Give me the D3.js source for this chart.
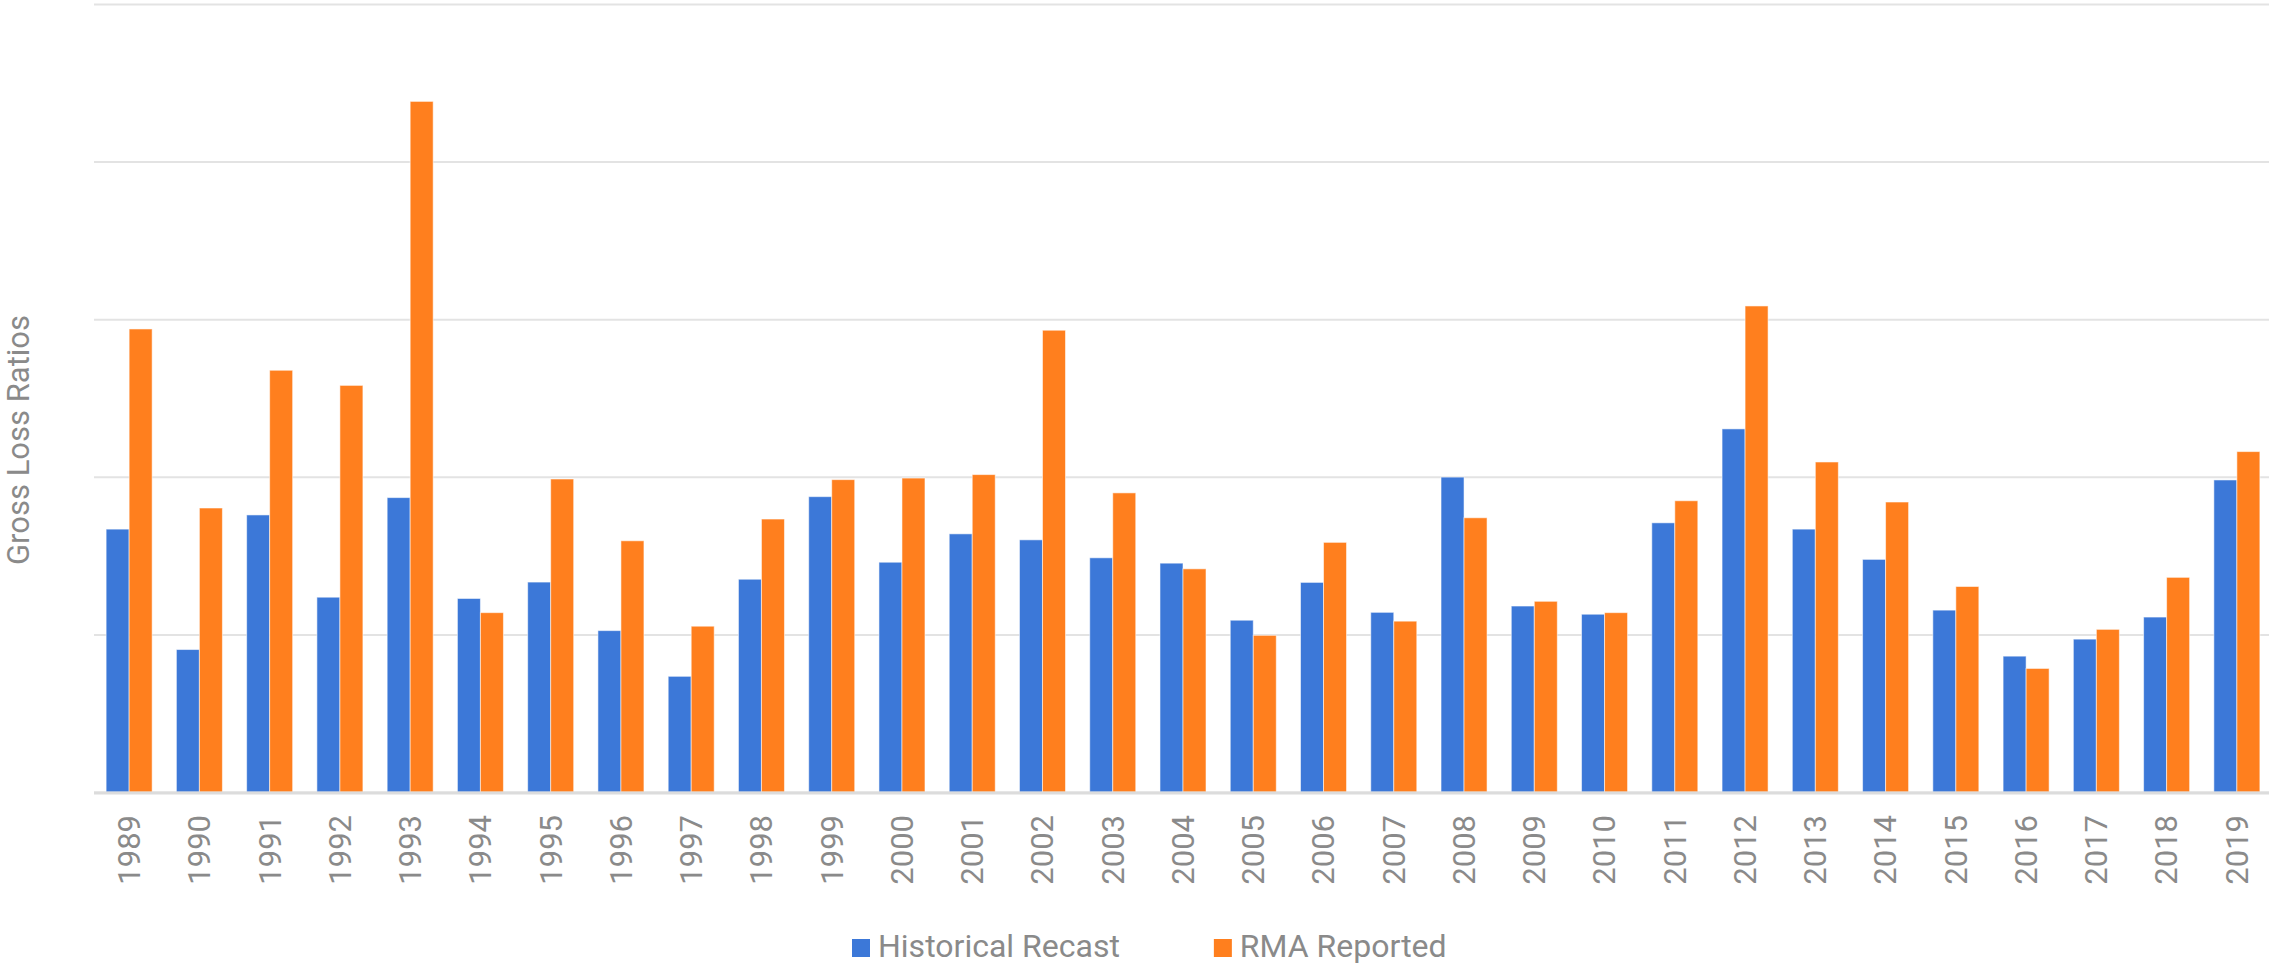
<!DOCTYPE html>
<html>
<head>
<meta charset="utf-8">
<script src="https://cdn.jsdelivr.net/npm/d3@7"></script>
<style>
  html, body { margin: 0; padding: 0; background: #fff; }
  svg { display: block; font-family: Roboto, "Noto Sans", sans-serif; }
</style>
</head>
<body>
<svg id="chart" width="2269" height="966"></svg>
<script>
// Years on the x axis
var years = ["1989", "1990", "1991", "1992", "1993", "1994", "1995", "1996", "1997", "1998",
             "1999", "2000", "2001", "2002", "2003", "2004", "2005", "2006", "2007", "2008",
             "2009", "2010", "2011", "2012", "2013", "2014", "2015", "2016", "2017", "2018", "2019"];

// Series names
var seriesNames = ["Historical Recast", "RMA Reported"];

// Historical Recast values
var historicalRecast = [0.834, 0.452, 0.879, 0.618, 0.934, 0.614, 0.666, 0.512, 0.367, 0.675,
                        0.937, 0.729, 0.819, 0.800, 0.743, 0.726, 0.545, 0.665, 0.570, 0.999,
                        0.590, 0.564, 0.854, 1.152, 0.834, 0.738, 0.577, 0.431, 0.485, 0.555, 0.990];

// RMA Reported values
var rmaReported = [1.469, 0.901, 1.338, 1.290, 2.191, 0.569, 0.993, 0.797, 0.526, 0.866,
                   0.991, 0.996, 1.007, 1.465, 0.949, 0.708, 0.497, 0.792, 0.542, 0.870,
                   0.605, 0.569, 0.924, 1.542, 1.047, 0.920, 0.652, 0.392, 0.516, 0.681, 1.080];

// Gridline values (no labels shown in the chart)
var yTicks = [0, 0.5, 1, 1.5, 2, 2.5];

// Dimensions of the plot area
var chartW = 2269,
    plotLeft = 94,
    plotRight = 2272,
    plotTop = 4,
    plotBottom = 792;

var colors = ["#3c78d8", "#ff7f1e"];
var textColor = "#8a8a8a";

var svg = d3.select("#chart");

// Scales
var x0 = d3.scaleBand()
    .domain(years)
    .range([plotLeft, plotRight])
    .paddingInner(0.345)
    .paddingOuter(0.1725);

var x1 = d3.scaleBand()
    .domain(seriesNames)
    .range([0, x0.bandwidth()]);

var y = d3.scaleLinear()
    .domain([0, 2.5])
    .range([plotBottom, plotTop]);

var color = d3.scaleOrdinal()
    .domain(seriesNames)
    .range(colors);

// Gridlines
var grid = svg.append("g")
    .attr("transform", "translate(" + plotLeft + ",0)")
    .call(d3.axisLeft(y).tickValues(yTicks).tickSize(-(chartW - plotLeft)).tickFormat(""));
grid.select(".domain").remove();
grid.selectAll(".tick line")
    .attr("stroke", "#e3e3e3")
    .attr("stroke-width", 2);

// Rows of data for grouped bars
var rows = years.map(function (yr, i) {
    return { year: yr, values: [
        { key: seriesNames[0], value: historicalRecast[i] },
        { key: seriesNames[1], value: rmaReported[i] }
    ] };
});

// Bars
svg.append("g")
    .selectAll("g")
    .data(rows)
    .enter()
    .append("g")
    .attr("transform", function (d) { return "translate(" + x0(d.year) + ",0)"; })
    .selectAll("rect")
    .data(function (d) { return d.values; })
    .enter()
    .append("rect")
    .attr("x", function (d) { return x1(d.key); })
    .attr("y", function (d) { return y(d.value); })
    .attr("width", x1.bandwidth())
    .attr("height", function (d) { return y(0) - y(d.value); })
    .attr("fill", function (d) { return color(d.key); })
    .attr("stroke", "#ffffff")
    .attr("stroke-opacity", 0.55)
    .attr("stroke-width", 1);

// Baseline
svg.append("line")
    .attr("x1", plotLeft)
    .attr("x2", chartW)
    .attr("y1", y(0) + 1)
    .attr("y2", y(0) + 1)
    .attr("stroke", "#dcdcdc")
    .attr("stroke-width", 3);

// X axis with rotated year labels
var xAxis = svg.append("g")
    .attr("transform", "translate(0," + plotBottom + ")")
    .call(d3.axisBottom(x0).tickSize(0));
xAxis.select(".domain").remove();
xAxis.selectAll("text")
    .attr("transform", "rotate(-90)")
    .attr("x", -23)
    .attr("y", 0)
    .attr("dy", "0.35em")
    .style("text-anchor", "end")
    .style("font-size", "31px")
    .style("font-family", "Roboto, sans-serif")
    .attr("fill", textColor);

// Y axis title
svg.append("text")
    .attr("transform", "translate(29,440) rotate(-90)")
    .attr("text-anchor", "middle")
    .style("font-size", "31px")
    .attr("fill", textColor)
    .text("Gross Loss Ratios");

// Legend
var legend = svg.append("g");
var lx = 852;
seriesNames.forEach(function (name, i) {
    var item = legend.append("g").attr("transform", "translate(" + lx + ",0)");
    item.append("rect")
        .attr("x", 0)
        .attr("y", 939)
        .attr("width", 18)
        .attr("height", 18)
        .attr("fill", color(name));
    var t = item.append("text")
        .attr("x", 26)
        .attr("y", 957)
        .style("font-size", "32px")
        .attr("fill", textColor)
        .text(name);
    lx += 26 + t.node().getComputedTextLength() + 94;
});
</script>
</body>
</html>
